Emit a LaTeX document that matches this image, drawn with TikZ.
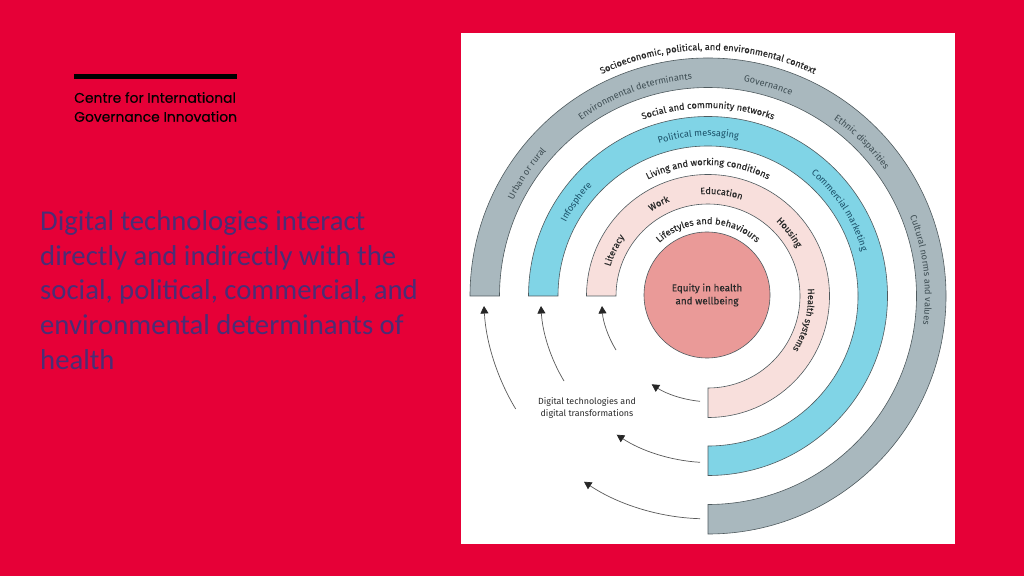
\documentclass[tikz,border=0pt]{standalone}
\usepackage{fontspec}
\setmainfont{Fira Sans}
\newfontfamily\medfont[FakeBold=0.25]{Fira Sans}
\newfontfamily\slidefont{Carlito}
\newfontfamily\logofont[FakeBold=0.25]{Poppins}
\usetikzlibrary{decorations.text,arrows.meta}
\definecolor{slidered}{HTML}{E60037}
\definecolor{slidetext}{HTML}{4B2D75}
\definecolor{ringgray}{HTML}{A9B8BE}
\definecolor{ringblue}{HTML}{80D4E6}
\definecolor{ringpink}{HTML}{F8DFDC}
\definecolor{corefill}{HTML}{EA9A98}
\definecolor{ringedge}{HTML}{4F5A5E}
\definecolor{txtgray}{HTML}{3F4E54}
\definecolor{txtblue}{HTML}{1A5068}
\definecolor{txtdark}{HTML}{2B2B2B}
\tikzset{
  ringshape/.style={draw=ringedge,line width=0.6pt,line join=miter},
  flow/.style={draw=black!65,line width=0.7pt,-{Triangle[length=7.5pt,width=8pt,color=black!85]},looseness=0.86},
}
% radius, middle angle, half span, font+colour, text
\newcommand{\arctext}[5]{%
  \path[decorate,decoration={text along path,text align=center,text={|#4|#5}}]
    ([shift={(#2+#3:#1)}]ctr) arc[start angle={#2+#3},end angle={#2-#3},radius=#1];}
\newcommand{\ringband}[3]{%
  \path[ringshape,fill=#3] ([shift={(180:#1)}]ctr) arc[start angle=180,end angle=-90,radius=#1]
    -- ([shift={(-90:#2)}]ctr) arc[start angle=-90,end angle=180,radius=#2] -- cycle;}
\begin{document}
\begin{tikzpicture}[x=1pt,y=1pt]
\useasboundingbox (0,0) rectangle (1024,576);
\fill[slidered] (0,0) rectangle (1024,576);
\fill[white] (461,32) rectangle (955,543);
\fill[black] (74,497) rectangle (237,502);
\node[anchor=west,inner sep=0pt,font=\logofont\fontsize{13.9}{19}\selectfont,align=left,text=black] (logo) at (74,469) {Centre for International\\Governance Innovation};
\node[anchor=north west,inner sep=0pt,font=\slidefont\fontsize{28.7}{34.6}\selectfont,align=left,text=slidetext] (headline) at (40,365.5) {Digital technologies interact\\directly and indirectly with the\\social, political, commercial, and\\environmental determinants of\\health};
\coordinate (ctr) at (708,280);
\ringband{238}{208.5}{ringgray}
\ringband{179.5}{150}{ringblue}
\ringband{121.5}{92}{ringpink}
\node[circle,draw=ringedge,line width=0.6pt,fill=corefill,minimum size=126pt,inner sep=0pt,align=center,text=txtdark,font=\medfont\fontsize{9.9}{13}\selectfont] (core) at (707,281) {Equity in health\\and wellbeing};
\def\outer{\medfont\fontsize{9.2}{11}\selectfont\color{txtdark}}
\def\gr{\fontsize{9.2}{11}\selectfont\color{txtgray}}
\def\bl{\fontsize{9.2}{11}\selectfont\color{txtblue}}
\def\pk{\medfont\fontsize{9.2}{11}\selectfont\color{txtdark}}
\arctext{246}{90}{55}{\outer}{Socioeconomic, political, and environmental context}
\arctext{217}{110}{50}{\gr}{Environmental determinants}
\arctext{217}{74}{40}{\gr}{Governance}
\arctext{217}{45}{40}{\gr}{Ethnic disparities}
\arctext{217}{7}{45}{\gr}{Cultural norms and values}
\arctext{217}{146}{40}{\gr}{Urban or rural}
\arctext{188}{90}{50}{\outer}{Social and community networks}
\arctext{160}{93.5}{40}{\bl}{Political messaging}
\arctext{160}{144.5}{40}{\bl}{Infosphere}
\arctext{160}{33}{40}{\bl}{Commercial marketing}
\arctext{131}{90}{50}{\outer}{Living and working conditions}
\arctext{102}{154}{40}{\pk}{Literacy}
\arctext{102}{118}{40}{\pk}{Work}
\arctext{102}{82.5}{40}{\pk}{Education}
\arctext{101}{38}{40}{\pk}{Housing}
\arctext{100}{-14}{40}{\pk}{Health systems}
\arctext{72}{90}{70}{\outer}{Lifestyles and behaviours}
\node[inner sep=0pt,align=center,text=txtdark,font=\fontsize{8.9}{12.5}\selectfont] (digital) at (587,168) {Digital technologies and\\digital transformations};
\coordinate (a1s) at (515.7,167);
\coordinate (a1e) at (484,270);
\coordinate (a2s) at (564,195);
\coordinate (a2e) at (541,270);
\coordinate (a3s) at (616,226);
\coordinate (a3e) at (602,270);
\coordinate (a4s) at (700,174.7);
\coordinate (a4e) at (651.7,191.7);
\coordinate (a5s) at (700,113.7);
\coordinate (a5e) at (616.7,141.3);
\coordinate (a6s) at (700,57.3);
\coordinate (a6e) at (584,94.3);
\draw[flow] (a1s) to[bend left=14] (a1e);
\draw[flow] (a2s) to[bend left=14] (a2e);
\draw[flow] (a3s) to[bend left=14] (a3e);
\draw[flow] (a4s) to[bend left=14] (a4e);
\draw[flow] (a5s) to[bend left=15] (a5e);
\draw[flow] (a6s) to[bend left=16] (a6e);
\end{tikzpicture}
\end{document}
